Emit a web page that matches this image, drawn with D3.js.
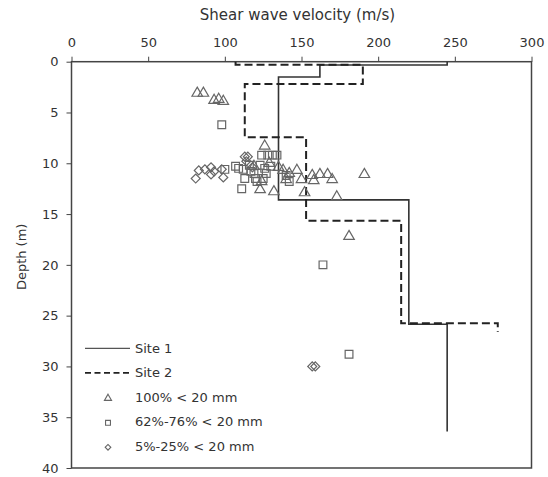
<!DOCTYPE html>
<html>
<head>
<meta charset="utf-8">
<script src="https://cdn.jsdelivr.net/npm/d3@7"></script>
<style>
  body { margin: 0; background: #fff; }
  text { font-family: "DejaVu Sans", Verdana, sans-serif; fill: #333; }
</style>
</head>
<body>
<svg width="548" height="477"></svg>
<script>
// axis ticks
var xTicks = [0, 50, 100, 150, 200, 250, 300];
var yTicks = [0, 5, 10, 15, 20, 25, 30, 35, 40];

// step profiles: layer boundaries (m) and velocity in each layer (m/s)
var site1Depth = [0, 0.33, 1.5, 13.6, 25.85, 36.4];
var site1Vs    = [245, 162, 135, 220, 245];
var site2Depth = [0, 0.3, 2.2, 7.45, 15.65, 25.75, 26.6];
var site2Vs    = [107, 190, 113, 153, 215, 278];

// measured points [velocity, depth]
var triangles = [
  [82, 3.1], [86, 3.1], [93, 3.8], [96, 3.7], [99, 3.9],
  [126, 8.3], [123, 12.6], [132, 12.8], [129, 10.0], [135, 10.4],
  [138, 10.7], [142, 11.0], [147, 10.7], [150, 11.6], [152, 12.9],
  [157, 11.2], [158, 11.7], [162, 11.1], [167, 11.1], [170, 11.6],
  [173, 13.3], [191, 11.1], [181, 17.2], [119, 10.3], [124, 11.8],
  [140, 11.6]
];
var squares = [
  [98, 6.2], [100, 10.6], [107, 10.3], [109, 10.5], [112, 10.6],
  [111, 12.5], [113, 11.5], [117, 10.8], [121, 11.8], [120, 11.5],
  [123, 10.2], [124, 9.2], [128, 9.2], [131, 9.2], [134, 9.2],
  [126, 10.5], [127, 11.0], [125, 11.5], [140, 11.2], [142, 11.8],
  [116, 10.2], [119, 11.0], [130, 10.3], [164, 20.0], [181, 28.8]
];
var diamonds = [
  [81, 11.5], [83, 10.7], [87, 10.6], [91, 10.4], [91, 11.1],
  [93, 10.8], [99, 11.4], [98, 10.6], [113, 9.35], [115, 9.35],
  [114, 9.8], [118, 10.4], [157, 30.0], [159, 30.0]
];

var legendItems = ["Site 1", "Site 2", "100% < 20 mm", "62%-76% < 20 mm", "5%-25% < 20 mm"];

var margin = {top: 61.7, left: 71.5},
    width = 460,
    height = 406.3;

var svg = d3.select("svg");
var g = svg.append("g")
    .attr("transform", "translate(" + margin.left + "," + margin.top + ")");

var x = d3.scaleLinear().domain([0, 300]).range([0, width]);
var y = d3.scaleLinear().domain([0, 40]).range([0, height]);

var axisColor = "#444";

// frame
g.append("rect")
    .attr("width", width)
    .attr("height", height)
    .attr("fill", "none")
    .attr("stroke", axisColor)
    .attr("stroke-width", 1.5);

var xAxis = g.append("g")
    .call(d3.axisTop(x).tickValues(xTicks).tickSize(5).tickPadding(10));
var yAxis = g.append("g")
    .call(d3.axisLeft(y).tickValues(yTicks).tickSize(5).tickPadding(8));

[xAxis, yAxis].forEach(function(a){
  a.select(".domain").remove();
  a.selectAll("line").attr("stroke", axisColor);
  a.selectAll("text")
    .style("font-family", "DejaVu Sans, Verdana, sans-serif")
    .style("font-size", "13px")
    .attr("fill", "#333");
});

svg.append("text")
    .attr("x", margin.left + width / 2 - 4)
    .attr("y", 20)
    .attr("text-anchor", "middle")
    .style("font-size", "15px")
    .text("Shear wave velocity (m/s)");

svg.append("text")
    .attr("transform", "translate(26," + (margin.top + height / 2 - 8) + ") rotate(-90)")
    .attr("text-anchor", "middle")
    .style("font-size", "13px")
    .text("Depth (m)");

function steps(depths, vs){
  var pts = [];
  vs.forEach(function(v, i){
    pts.push([v, depths[i]]);
    pts.push([v, depths[i + 1]]);
  });
  return pts;
}

var line = d3.line()
    .x(function(d){ return x(d[0]); })
    .y(function(d){ return y(d[1]); });

g.append("path")
    .attr("d", line(steps(site1Depth, site1Vs)))
    .attr("fill", "none")
    .attr("stroke", "#333")
    .attr("stroke-width", 1.6);

g.append("path")
    .attr("d", line(steps(site2Depth, site2Vs)))
    .attr("fill", "none")
    .attr("stroke", "#222")
    .attr("stroke-width", 2)
    .attr("stroke-dasharray", "8,4");

var markerColor = "#666";

function drawPoints(data, type, size, rot){
  g.selectAll(null)
    .data(data)
    .enter().append("path")
      .attr("d", d3.symbol().type(type).size(size))
      .attr("transform", function(d){
        return "translate(" + x(d[0]) + "," + y(d[1]) + ") rotate(" + rot + ")";
      })
      .attr("fill", "none")
      .attr("stroke", markerColor)
      .attr("stroke-width", 1.2);
}

drawPoints(triangles, d3.symbolTriangle, 48, 0);
drawPoints(squares, d3.symbolSquare, 60, 0);
drawPoints(diamonds, d3.symbolSquare, 40, 45);

// legend
var legend = g.append("g").attr("transform", "translate(13.5,286.6)");
var rowH = 24.5;

legend.append("line")
    .attr("x1", 0).attr("x2", 45)
    .attr("y1", 0).attr("y2", 0)
    .attr("stroke", "#555")
    .attr("stroke-width", 1.2);
legend.append("line")
    .attr("x1", 0).attr("x2", 45)
    .attr("y1", rowH).attr("y2", rowH)
    .attr("stroke", "#222")
    .attr("stroke-width", 1.8)
    .attr("stroke-dasharray", "6,3.5");

var legendSymbols = [[d3.symbolTriangle, 22, 0], [d3.symbolSquare, 24, 0], [d3.symbolSquare, 16, 45]];
legendSymbols.forEach(function(s, i){
  legend.append("path")
    .attr("d", d3.symbol().type(s[0]).size(s[1]))
    .attr("transform", "translate(23," + ((i + 2) * rowH + 1) + ") rotate(" + s[2] + ")")
    .attr("fill", "none")
    .attr("stroke", markerColor)
    .attr("stroke-width", 1.1);
});

legend.selectAll(".ltext")
  .data(legendItems)
  .enter().append("text")
    .attr("class", "ltext")
    .attr("x", 50)
    .attr("y", function(d, i){ return i * rowH; })
    .attr("dy", "0.35em")
    .style("font-size", "13px")
    .text(function(d){ return d; });
</script>
</body>
</html>
